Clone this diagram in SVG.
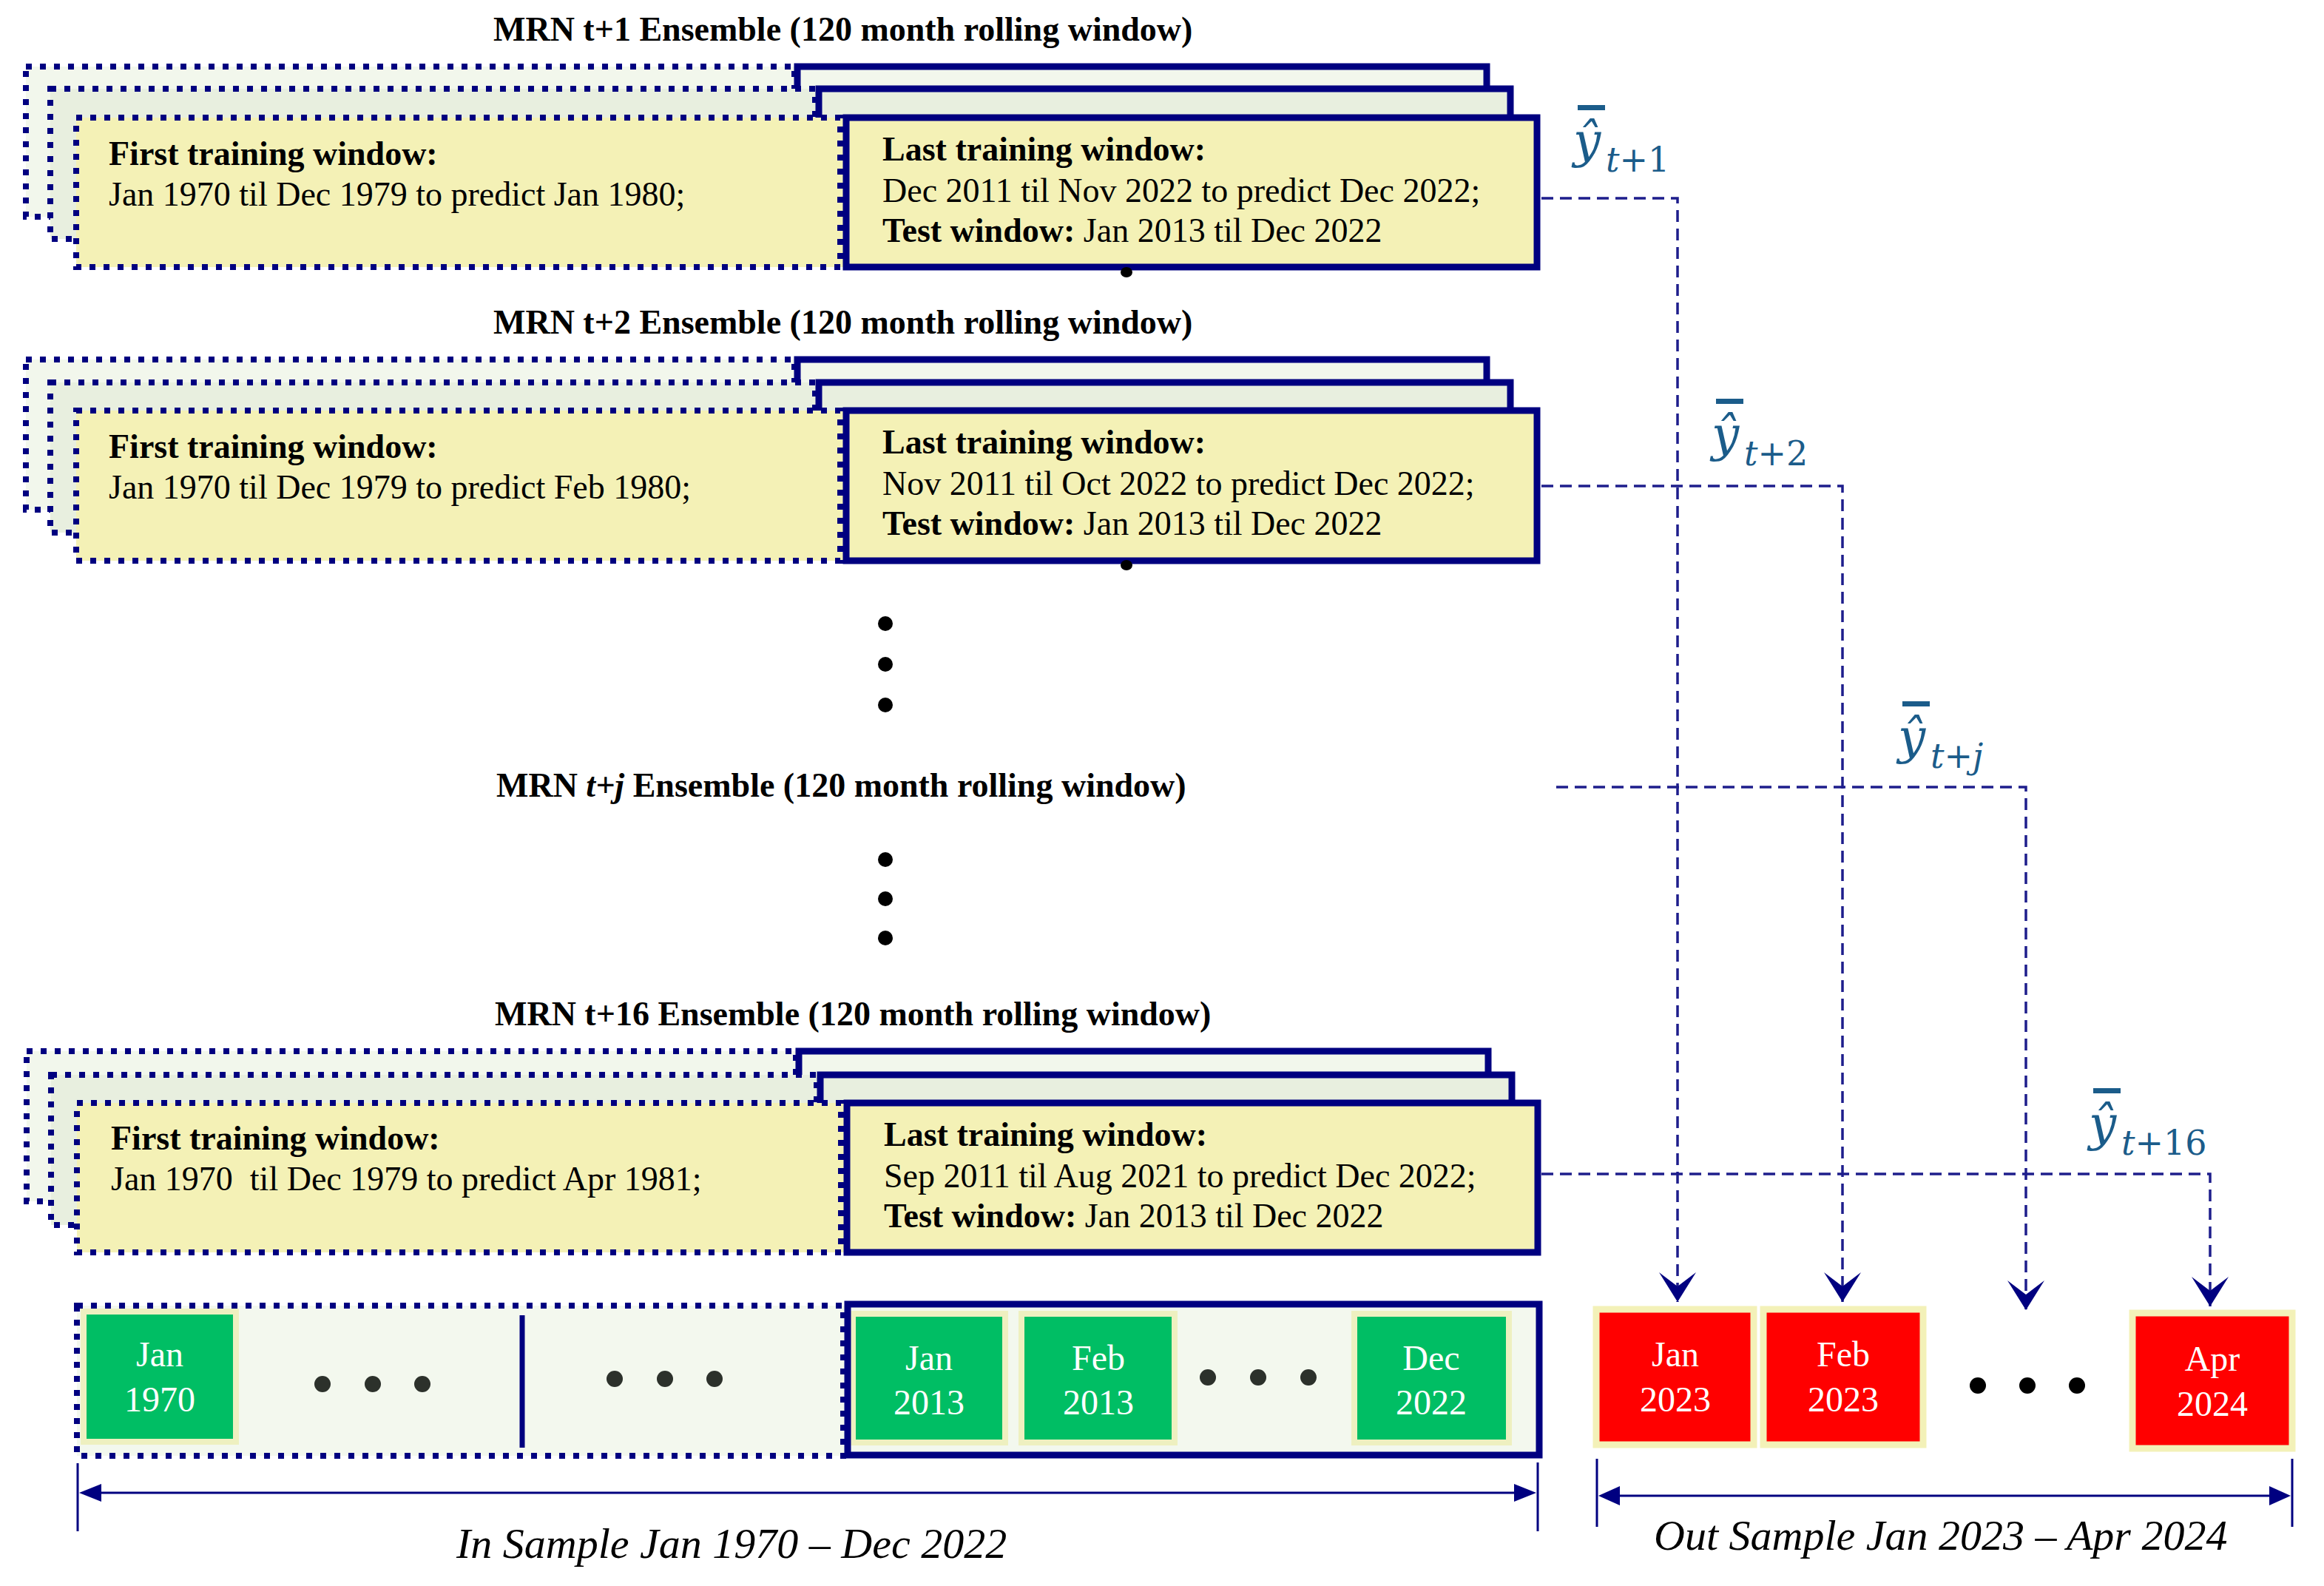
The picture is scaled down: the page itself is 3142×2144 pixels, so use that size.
<svg xmlns="http://www.w3.org/2000/svg" width="3142" height="2144" viewBox="0 0 3142 2144">
<style>
.dot{fill:none;stroke:#000080;stroke-width:8;stroke-dasharray:8 11}
.sol{fill:none;stroke:#000080;stroke-width:9}
.fa{fill:#F2F7EC}
.fb{fill:#E8EFDF}
.fc{fill:#F4F1B6}
.fs{fill:#F3F8EE}
.t{font-family:"Liberation Serif","Times New Roman",serif;font-size:46px;fill:#000}
.b{font-weight:bold}
.ttl{font-family:"Liberation Serif","Times New Roman",serif;font-size:46px;font-weight:bold;fill:#000}
.cell{font-family:"Liberation Serif","Times New Roman",serif;font-size:48px;fill:#fff;text-anchor:middle}
.green{fill:#00BE64;stroke:#EEF0C0;stroke-width:8}
.red{fill:#FF0000;stroke:#F3F1B8;stroke-width:9}
.blk{fill:#000}
.gdot{fill:#2C312B}
.conn{fill:none;stroke:#1E1E8C;stroke-width:3.5;stroke-dasharray:16 9}
.yl{font-family:"DejaVu Serif",serif;fill:#1B5C8A}
.yb{fill:#1B5C8A}
.ax{stroke:#000080;stroke-width:3;fill:none}
.axh{fill:#000080}
.cap{font-family:"Liberation Serif","Times New Roman",serif;font-size:58px;font-style:italic;fill:#000}
</style>
<defs>
<marker id="ah" markerUnits="userSpaceOnUse" markerWidth="54" markerHeight="54" viewBox="-42 -27 44 54" refX="0" refY="0" orient="auto">
<path d="M0,0 L-40,-25 L-21,0 L-40,25 Z" fill="#000080"/>
</marker>
</defs>
<rect width="3142" height="2144" fill="#fff"/>

<!-- Stack t+1 -->
<g id="stack-t1">
<text class="ttl" x="667" y="55">MRN t+1 Ensemble (120 month rolling window)</text>
<rect class="fa" x="35" y="90" width="1975" height="203"/>
<rect class="dot" x="35" y="90" width="1039" height="203"/>
<rect class="sol" x="1078" y="90" width="932" height="203"/>
<rect class="fb" x="68" y="120" width="1974" height="203"/>
<rect class="dot" x="68" y="120" width="1034" height="203"/>
<rect class="sol" x="1107" y="120" width="935" height="203"/>
<rect class="fc" x="103" y="159" width="1975" height="202"/>
<rect class="dot" x="103" y="159" width="1033" height="202"/>
<rect class="sol" x="1144" y="159" width="934" height="202"/>
<text class="t b" x="147" y="223">First training window:</text>
<text class="t" x="147" y="278">Jan 1970 til Dec 1979 to predict Jan 1980;</text>
<text class="t b" x="1193" y="217">Last training window:</text>
<text class="t" x="1193" y="273">Dec 2011 til Nov 2022 to predict Dec 2022;</text>
<text class="t" x="1193" y="327"><tspan class="b">Test window:</tspan> Jan 2013 til Dec 2022</text>
<ellipse class="blk" cx="1523" cy="368" rx="8" ry="7"/>
</g>

<!-- Stack t+2 -->
<g id="stack-t2">
<text class="ttl" x="667" y="451">MRN t+2 Ensemble (120 month rolling window)</text>
<rect class="fa" x="35" y="486" width="1975" height="203"/>
<rect class="dot" x="35" y="486" width="1039" height="203"/>
<rect class="sol" x="1078" y="486" width="932" height="203"/>
<rect class="fb" x="68" y="517" width="1974" height="203"/>
<rect class="dot" x="68" y="517" width="1034" height="203"/>
<rect class="sol" x="1107" y="517" width="935" height="203"/>
<rect class="fc" x="103" y="555" width="1975" height="203"/>
<rect class="dot" x="103" y="555" width="1033" height="203"/>
<rect class="sol" x="1144" y="555" width="934" height="203"/>
<text class="t b" x="147" y="619">First training window:</text>
<text class="t" x="147" y="674">Jan 1970 til Dec 1979 to predict Feb 1980;</text>
<text class="t b" x="1193" y="613">Last training window:</text>
<text class="t" x="1193" y="669">Nov 2011 til Oct 2022 to predict Dec 2022;</text>
<text class="t" x="1193" y="723"><tspan class="b">Test window:</tspan> Jan 2013 til Dec 2022</text>
<ellipse class="blk" cx="1523" cy="764" rx="8" ry="7"/>
</g>

<!-- Middle dots and t+j -->
<g id="dots-upper">
<circle class="blk" cx="1197" cy="843" r="10"/>
<circle class="blk" cx="1197" cy="898" r="10"/>
<circle class="blk" cx="1197" cy="953" r="10"/>
</g>
<g id="title-tj">
<text class="ttl" x="671" y="1077">MRN <tspan font-style="italic">t+j</tspan> Ensemble (120 month rolling window)</text>
</g>
<g id="dots-lower">
<circle class="blk" cx="1197" cy="1162" r="10"/>
<circle class="blk" cx="1197" cy="1215" r="10"/>
<circle class="blk" cx="1197" cy="1268" r="10"/>
</g>

<!-- Stack t+16 -->
<g id="stack-t16">
<text class="ttl" x="669" y="1386">MRN t+16 Ensemble (120 month rolling window)</text>
<rect class="fa" x="36" y="1421" width="1976" height="203"/>
<rect class="dot" x="36" y="1421" width="1040" height="203"/>
<rect class="sol" x="1080" y="1421" width="932" height="203"/>
<rect class="fb" x="69" y="1453" width="1975" height="203"/>
<rect class="dot" x="69" y="1453" width="1035" height="203"/>
<rect class="sol" x="1109" y="1453" width="935" height="203"/>
<rect class="fc" x="104" y="1491" width="1975" height="202"/>
<rect class="dot" x="104" y="1491" width="1033" height="202"/>
<rect class="sol" x="1145" y="1491" width="934" height="202"/>
<text class="t b" x="150" y="1554">First training window:</text>
<text class="t" x="150" y="1609">Jan 1970&#160; til Dec 1979 to predict Apr 1981;</text>
<text class="t b" x="1195" y="1549">Last training window:</text>
<text class="t" x="1195" y="1605">Sep 2011 til Aug 2021 to predict Dec 2022;</text>
<text class="t" x="1195" y="1659"><tspan class="b">Test window:</tspan> Jan 2013 til Dec 2022</text>
</g>

<!-- In-sample strip -->
<g id="in-sample-strip">
<rect class="fs" x="104" y="1765" width="1977" height="203"/>
<rect class="green" x="113" y="1773" width="206" height="176"/>
<rect class="green" x="1153" y="1776" width="206" height="174"/>
<rect class="green" x="1381" y="1776" width="207" height="174"/>
<rect class="green" x="1831" y="1776" width="209" height="174"/>
<rect class="dot" x="104" y="1765" width="1036" height="203"/>
<rect class="sol" x="1146" y="1763" width="935" height="204"/>
<line x1="706" y1="1778" x2="706" y2="1957" stroke="#000080" stroke-width="7"/>
<circle class="gdot" cx="436" cy="1871" r="11"/>
<circle class="gdot" cx="504" cy="1871" r="11"/>
<circle class="gdot" cx="571" cy="1871" r="11"/>
<circle class="gdot" cx="831" cy="1864" r="11"/>
<circle class="gdot" cx="899" cy="1864" r="11"/>
<circle class="gdot" cx="966" cy="1864" r="11"/>
<circle class="gdot" cx="1633" cy="1862" r="11"/>
<circle class="gdot" cx="1701" cy="1862" r="11"/>
<circle class="gdot" cx="1769" cy="1862" r="11"/>
<text class="cell" x="216" y="1847">Jan</text>
<text class="cell" x="216" y="1908">1970</text>
<text class="cell" x="1256" y="1852">Jan</text>
<text class="cell" x="1256" y="1912">2013</text>
<text class="cell" x="1485" y="1852">Feb</text>
<text class="cell" x="1485" y="1912">2013</text>
<text class="cell" x="1935" y="1852">Dec</text>
<text class="cell" x="1935" y="1912">2022</text>
</g>

<!-- Out-sample cells -->
<g id="out-jan2023">
<rect class="red" x="2158" y="1770" width="213" height="183"/>
<text class="cell" x="2265" y="1847">Jan</text>
<text class="cell" x="2265" y="1908">2023</text>
</g>
<g id="out-feb2023">
<rect class="red" x="2384" y="1770" width="216" height="183"/>
<text class="cell" x="2492" y="1847">Feb</text>
<text class="cell" x="2492" y="1908">2023</text>
</g>
<g id="out-dots">
<circle class="blk" cx="2674" cy="1873" r="11"/>
<circle class="blk" cx="2741" cy="1873" r="11"/>
<circle class="blk" cx="2808" cy="1873" r="11"/>
</g>
<g id="out-apr2024">
<rect class="red" x="2883" y="1775" width="216" height="183"/>
<text class="cell" x="2991" y="1853">Apr</text>
<text class="cell" x="2991" y="1914">2024</text>
</g>

<!-- Labels -->
<g id="label-t1">
<rect class="yb" x="2133" y="142" width="37" height="7"/>
<text class="yl" x="2127" y="212" font-size="66" font-style="italic">ŷ</text>
<text class="yl" x="2171" y="232" font-size="46"><tspan font-style="italic">t</tspan>+1</text>
</g>
<g id="label-t2">
<rect class="yb" x="2320" y="539" width="37" height="7"/>
<text class="yl" x="2314" y="609" font-size="66" font-style="italic">ŷ</text>
<text class="yl" x="2358" y="629" font-size="46"><tspan font-style="italic">t</tspan>+2</text>
</g>
<g id="label-tj">
<rect class="yb" x="2572" y="948" width="37" height="7"/>
<text class="yl" x="2566" y="1018" font-size="66" font-style="italic">ŷ</text>
<text class="yl" x="2610" y="1038" font-size="46"><tspan font-style="italic">t</tspan>+<tspan font-style="italic">j</tspan></text>
</g>
<g id="label-t16">
<rect class="yb" x="2830" y="1471" width="37" height="7"/>
<text class="yl" x="2824" y="1541" font-size="66" font-style="italic">ŷ</text>
<text class="yl" x="2868" y="1561" font-size="46"><tspan font-style="italic">t</tspan>+16</text>
</g>

<!-- Connectors -->
<g id="connectors">
<path class="conn" d="M2084,268 H2268 V1760" marker-end="url(#ah)"/>
<path class="conn" d="M2084,657 H2491 V1760" marker-end="url(#ah)"/>
<path class="conn" d="M2104,1064 H2739 V1771" marker-end="url(#ah)"/>
<path class="conn" d="M2084,1587 H2988 V1766" marker-end="url(#ah)"/>
</g>

<!-- In-sample axis -->
<g id="in-sample-axis">
<line class="ax" x1="105" y1="1978" x2="105" y2="2070"/>
<line class="ax" x1="2079" y1="1977" x2="2079" y2="2070"/>
<line class="ax" x1="120" y1="2018" x2="2064" y2="2018"/>
<polygon class="axh" points="107,2018 137,2006 137,2030"/>
<polygon class="axh" points="2077,2018 2047,2006 2047,2030"/>
<text class="cap" x="617" y="2106">In Sample Jan 1970 – Dec 2022</text>
</g>

<!-- Out-sample axis -->
<g id="out-sample-axis">
<line class="ax" x1="2159" y1="1972" x2="2159" y2="2064"/>
<line class="ax" x1="3099" y1="1972" x2="3099" y2="2064"/>
<line class="ax" x1="2175" y1="2022" x2="3083" y2="2022"/>
<polygon class="axh" points="2161,2022 2190,2009 2190,2035"/>
<polygon class="axh" points="3097,2022 3068,2009 3068,2035"/>
<text class="cap" x="2236" y="2095">Out Sample Jan 2023 – Apr 2024</text>
</g>
</svg>
